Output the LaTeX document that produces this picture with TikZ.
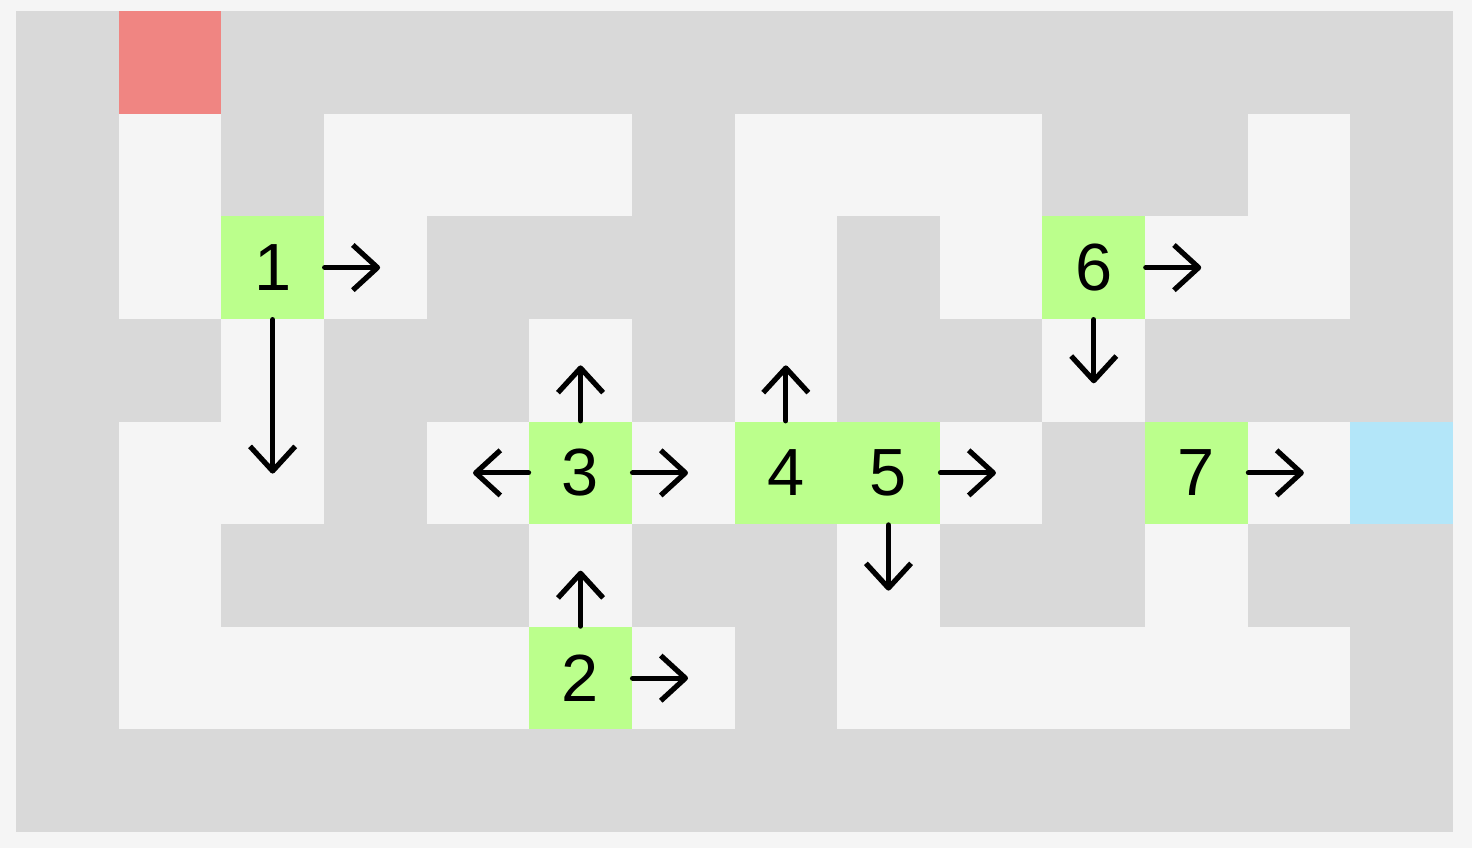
\documentclass[tikz,border=0pt]{standalone}
\usepackage{fontspec}
\setmainfont{Liberation Sans}
\usepackage{tikz}
\usetikzlibrary{arrows.meta,positioning}
\definecolor{wallgray}{HTML}{D9D9D9}
\definecolor{floorwhite}{HTML}{F5F5F5}
\definecolor{visitgreen}{HTML}{BBFF8C}
\definecolor{startred}{HTML}{F08582}
\definecolor{goalblue}{HTML}{B3E6F9}
\tikzstyle{floor}  = [fill=floorwhite]
\tikzstyle{visit}  = [fill=visitgreen, minimum size=1cm, inner sep=0pt, font=\fontsize{18.5}{22}\selectfont]
\tikzstyle{arrow}  = [line width=1.45pt, line cap=round, -{Straight Barb[length=2.4mm, width=4.4mm, line join=round]}]

\begin{document}
\begin{tikzpicture}
        \useasboundingbox[fill=floorwhite] (-0.156,-0.156) rectangle (14.185,8.107);
        \fill[wallgray] (0,0) rectangle (14,8);
        % open cells (column, row from the top)
        \foreach \c/\r in {1/1,3/1,4/1,5/1,7/1,8/1,9/1,12/1,
                           1/2,3/2,7/2,9/2,11/2,12/2,
                           2/3,5/3,7/3,10/3,
                           1/4,2/4,4/4,6/4,9/4,12/4,
                           1/5,5/5,8/5,11/5,
                           1/6,2/6,3/6,4/6,6/6,8/6,9/6,10/6,11/6,12/6}
            \fill[floor] (\c,7-\r) rectangle (\c+1,8-\r);
        \fill[startred] (1,7) rectangle (2,8);
        \fill[goalblue] (13,3) rectangle (14,4);

        \node[visit] (c1) at (2.5,5.5) {1};
        \node[visit] (c2) at (5.5,1.5) {2};
        \node[visit] (c3) at (5.5,3.5) {3};
        \node[visit] (c4) at (7.5,3.5) {4};
        \node[visit] (c5) at (8.5,3.5) {5};
        \node[visit] (c6) at (10.5,5.5) {6};
        \node[visit] (c7) at (11.5,3.5) {7};

        \coordinate (c1r) at ([xshift=5.4mm]c1.east);
        \coordinate (c1d) at ([yshift=-15mm]c1.south);
        \coordinate (c2u) at ([yshift=5.4mm]c2.north);
        \coordinate (c2r) at ([xshift=5.4mm]c2.east);
        \coordinate (c3u) at ([yshift=5.4mm]c3.north);
        \coordinate (c3l) at ([xshift=-5.4mm]c3.west);
        \coordinate (c3r) at ([xshift=5.4mm]c3.east);
        \coordinate (c4u) at ([yshift=5.4mm]c4.north);
        \coordinate (c5r) at ([xshift=5.4mm]c5.east);
        \coordinate (c5d) at ([yshift=-6.4mm]c5.south);
        \coordinate (c6r) at ([xshift=5.4mm]c6.east);
        \coordinate (c6d) at ([yshift=-6.2mm]c6.south);
        \coordinate (c7r) at ([xshift=5.4mm]c7.east);

        \draw[arrow] (c1.east) -- (c1r);
        \draw[arrow] (c1.south) -- (c1d);
        \draw[arrow] (c2.north) -- (c2u);
        \draw[arrow] (c2.east) -- (c2r);
        \draw[arrow] (c3.north) -- (c3u);
        \draw[arrow] (c3.west) -- (c3l);
        \draw[arrow] (c3.east) -- (c3r);
        \draw[arrow] (c4.north) -- (c4u);
        \draw[arrow] (c5.east) -- (c5r);
        \draw[arrow] (c5.south) -- (c5d);
        \draw[arrow] (c6.east) -- (c6r);
        \draw[arrow] (c6.south) -- (c6d);
        \draw[arrow] (c7.east) -- (c7r);
    \end{tikzpicture}
\end{document}
